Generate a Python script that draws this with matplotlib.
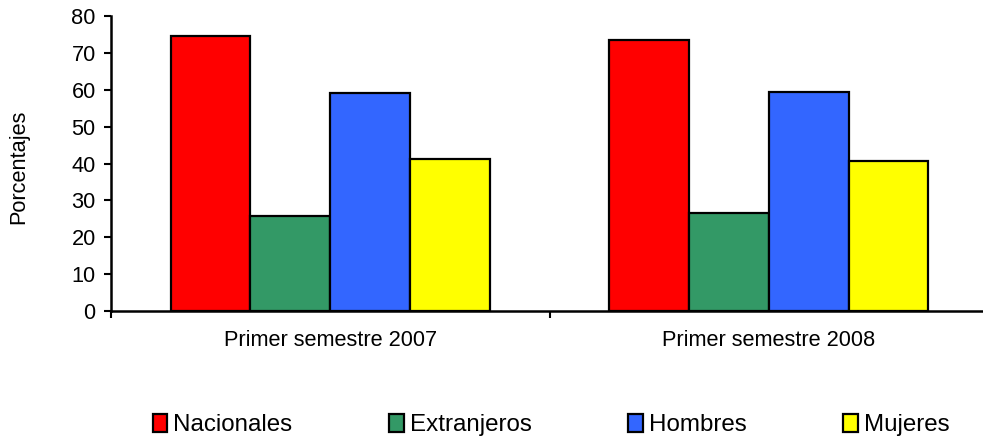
import matplotlib
matplotlib.use("Agg")
import matplotlib.pyplot as plt
from matplotlib.patches import Patch
import numpy as np

plt.rcParams['font.family'] = ['Liberation Sans', 'DejaVu Sans']

categories = ["Primer semestre 2007", "Primer semestre 2008"]
series = ["Nacionales", "Extranjeros", "Hombres", "Mujeres"]
nacionales = [74.6, 73.5]
extranjeros = [25.7, 26.5]
hombres = [59.1, 59.4]
mujeres = [41.1, 40.6]
colors = ["#FF0000", "#339966", "#3366FF", "#FFFF00"]
yticks = [0, 10, 20, 30, 40, 50, 60, 70, 80]

values = [nacionales, extranjeros, hombres, mujeres]

fig = plt.figure(figsize=(9.83, 4.42), dpi=100)
ax = fig.add_axes([111/983, 1-311/442, (988-111)/983, (311-16)/442])

x = np.arange(len(categories))
w = 0.182
for i, (vals, c) in enumerate(zip(values, colors)):
    ax.bar(x + (i - 1.5) * w, vals, width=w, color=c, edgecolor="black",
           linewidth=1.6, zorder=3)

ax.set_xlim(-0.5, len(categories) - 0.5)
ax.set_ylim(0, 80)
ax.set_yticks(yticks)
ax.tick_params(axis='y', labelsize=15.7, length=5, width=1.5, pad=6, direction='out')

ax.set_xticks(np.arange(len(categories) + 1) - 0.5)
ax.set_xticklabels([])
ax.tick_params(axis='x', which='major', length=5, width=1.5, direction='out')
ax.set_xticks(x, minor=True)
ax.set_xticklabels(categories, minor=True)
ax.tick_params(axis='x', which='minor', length=0, labelsize=15.7, pad=14)

for s in ["top", "right"]:
    ax.spines[s].set_visible(False)
for s in ["left", "bottom"]:
    ax.spines[s].set_linewidth(1.8)

fig.text(19/983, 1-167/442, "Porcentajes", rotation=90, ha="center", va="center",
         fontsize=15.7)

handles = [Patch(facecolor=c, edgecolor="black", linewidth=1.6) for c in colors]
fig.legend(handles, series, loc="center", bbox_to_anchor=(551/983, 1-425/442),
           ncol=4, frameon=False, fontsize=17.4, handlelength=0.6, handleheight=0.75,
           handletextpad=0.25, columnspacing=4.0, borderaxespad=0)

fig.savefig("out.png", dpi=100)
